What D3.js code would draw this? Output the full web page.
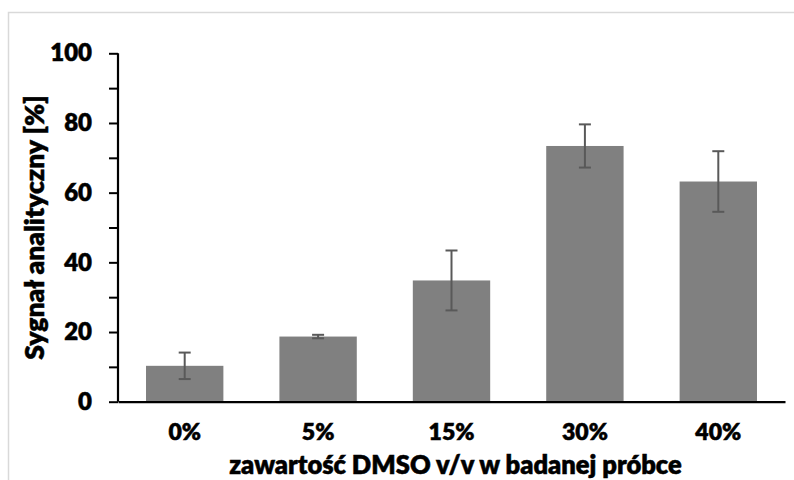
<!DOCTYPE html>
<html><head><meta charset="utf-8">
<script src="https://cdn.jsdelivr.net/npm/d3@7"></script>
<style>body{margin:0;background:#fff}svg{display:block}</style>
</head><body>
<script>
const categories = ["0%", "5%", "15%", "30%", "40%"];
const values = [10.3, 18.7, 34.8, 73.4, 63.2];
const errors = [3.8, 0.5, 8.6, 6.2, 8.7];
const yTicks = [0, 10, 20, 30, 40, 50, 60, 70, 80, 90, 100];
const yTitle = "Sygnał analityczny [%]";
const xTitle = "zawartość DMSO v/v w badanej próbce";

(function () {
const W = 794, H = 480;
const svg = d3.select("body").append("svg").attr("width", W).attr("height", H);
const font = "Lato, 'Open Sans', sans-serif";

svg.append("rect").attr("x", 8.5).attr("y", 12.5).attr("width", 900).attr("height", 600)
  .attr("fill", "#fff").attr("stroke", "#d9d9d9").attr("stroke-width", 1.5);

const mL = 118, mR = 785, mT = 53.3, mB = 401.7;
const x = d3.scaleBand().domain(categories).range([mL, mR]).paddingInner(0.42).paddingOuter(0.21);
const y = d3.scaleLinear().domain([0, 100]).range([mB, mT]);

const g = svg.append("g");
g.selectAll("rect.bar").data(values).join("rect").attr("class", "bar")
  .attr("x", (d, i) => x(categories[i])).attr("width", x.bandwidth())
  .attr("y", d => y(d)).attr("height", d => y(0) - y(d))
  .attr("fill", "#808080");

const eb = g.selectAll("g.err").data(values).join("g").attr("class", "err")
  .attr("stroke", "#595959").attr("stroke-width", 2);
eb.append("line").attr("x1", (d, i) => x(categories[i]) + x.bandwidth() / 2)
  .attr("x2", (d, i) => x(categories[i]) + x.bandwidth() / 2)
  .attr("y1", (d, i) => y(d + errors[i])).attr("y2", (d, i) => y(d - errors[i]));
[1, -1].forEach(s => {
  eb.append("line").attr("x1", (d, i) => x(categories[i]) + x.bandwidth() / 2 - 6)
    .attr("x2", (d, i) => x(categories[i]) + x.bandwidth() / 2 + 6)
    .attr("y1", (d, i) => y(d + s * errors[i])).attr("y2", (d, i) => y(d + s * errors[i]));
});

const txt = sel => sel.attr("font-family", font).attr("font-weight", 800)
  .attr("fill", "#000").attr("stroke", "#000").attr("stroke-width", 0.5);

const yAxis = svg.append("g").attr("transform", `translate(${mL},0)`)
  .call(d3.axisLeft(y).tickValues(yTicks).tickSize(9).tickPadding(17)
    .tickFormat(d => d % 20 === 0 ? d : ""));
yAxis.select(".domain").attr("stroke", "#000").attr("stroke-width", 2.2).attr("d", `M0,${mT}V${mB}`);
yAxis.selectAll(".tick line").attr("stroke", "#000").attr("stroke-width", 2);
yAxis.selectAll("text").call(txt).attr("font-size", 24);

const xAxis = svg.append("g").attr("transform", `translate(0,${mB})`)
  .call(d3.axisBottom(x).tickSize(0).tickPadding(22));
xAxis.select(".domain").attr("stroke", "#000").attr("stroke-width", 2.2);
xAxis.selectAll("text").call(txt).attr("font-size", 23);

svg.append("text").attr("x", (mL + mR) / 2 + 4).attr("y", 474).attr("text-anchor", "middle")
  .call(txt).attr("font-size", 25.5).text(xTitle);
svg.append("text").attr("transform", `translate(44,${(mT + mB) / 2}) rotate(-90)`)
  .attr("text-anchor", "middle").call(txt).attr("font-size", 26.5).text(yTitle);
})();
</script>
</body></html>
